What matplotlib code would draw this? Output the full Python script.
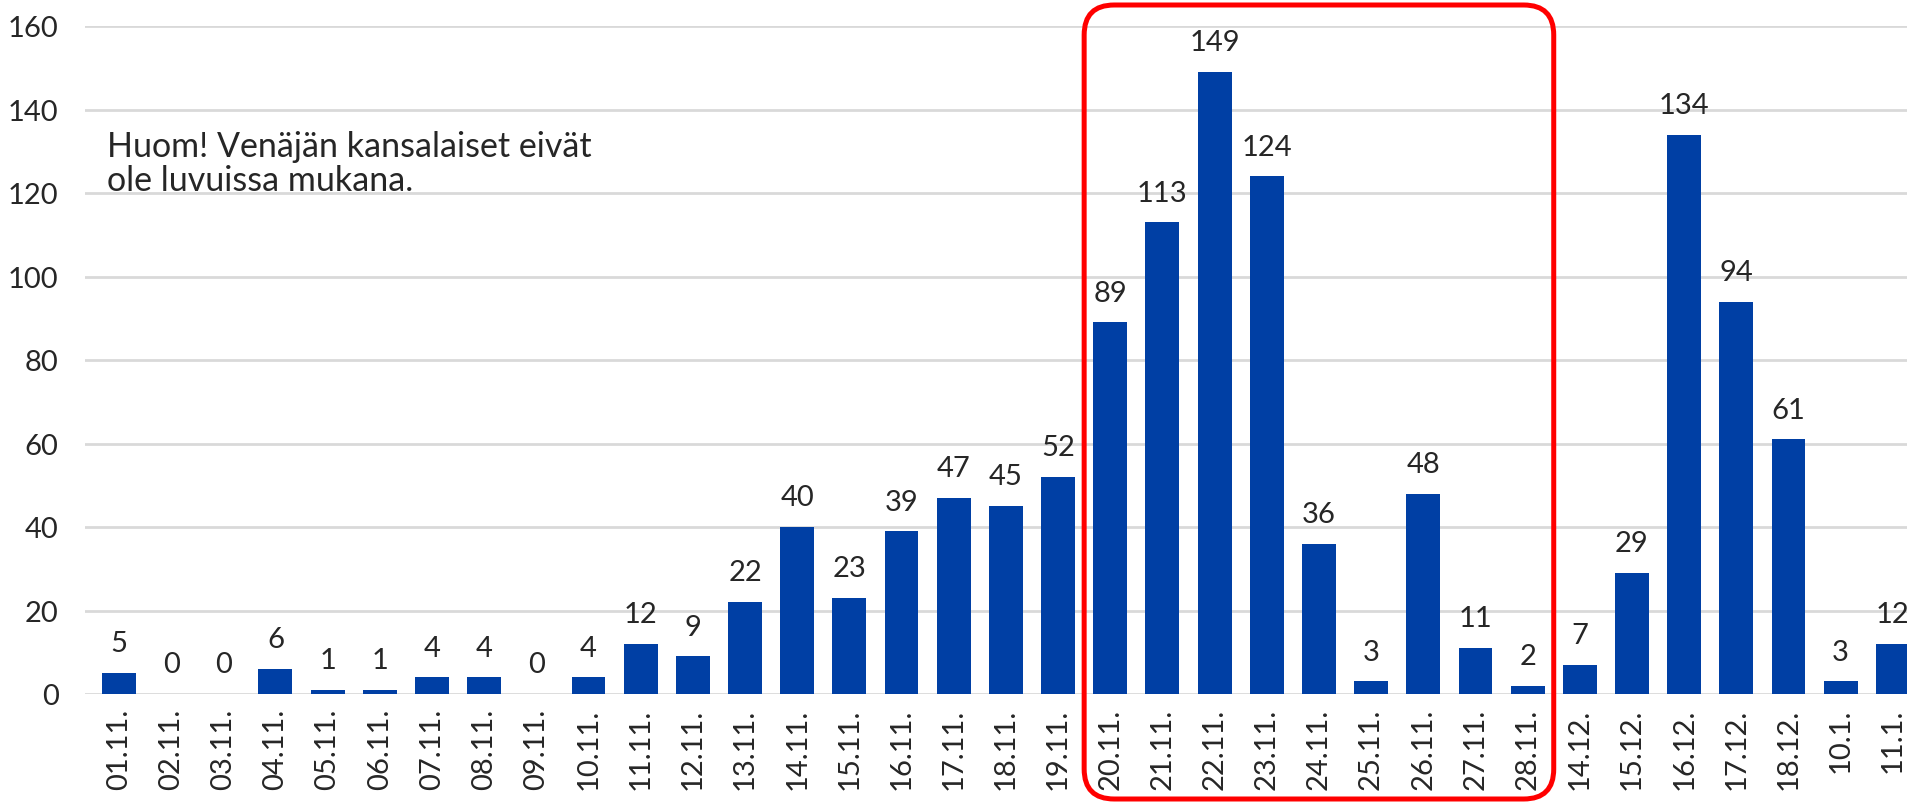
import matplotlib
matplotlib.use("Agg")
import matplotlib.pyplot as plt
from matplotlib.patches import FancyBboxPatch
from matplotlib.transforms import IdentityTransform

# days and counts
days = ['01.11.', '02.11.', '03.11.', '04.11.', '05.11.', '06.11.', '07.11.',
        '08.11.', '09.11.', '10.11.', '11.11.', '12.11.', '13.11.', '14.11.',
        '15.11.', '16.11.', '17.11.', '18.11.', '19.11.', '20.11.', '21.11.',
        '22.11.', '23.11.', '24.11.', '25.11.', '26.11.', '27.11.', '28.11.',
        '14.12.', '15.12.', '16.12.', '17.12.', '18.12.', '10.1.', '11.1.']
counts = [5, 0, 0, 6, 1, 1, 4, 4, 0, 4, 12, 9, 22, 40, 23, 39, 47, 45, 52,
          89, 113, 149, 124, 36, 3, 48, 11, 2, 7, 29, 134, 94, 61, 3, 12]
y_ticks = [0, 20, 40, 60, 80, 100, 120, 140, 160]
note = 'Huom! Venäjän kansalaiset eivät\nole luvuissa mukana.'
box_from, box_to = '20.11.', '28.11.'

plt.rcParams['font.family'] = ['Lato', 'DejaVu Sans']
txt = '#262626'
bar_col = '#003FA4'

W, H = 1908, 803
fig = plt.figure(figsize=(W / 100, H / 100), dpi=100)
ax = fig.add_axes([85 / W, (H - 695) / H, (W - 85) / W, (695 - 27) / H])

x = list(range(len(days)))
ax.bar(x, counts, width=0.65, color=bar_col, zorder=3)

for xi, v in zip(x, counts):
    ax.annotate(str(v), (xi, v), xytext=(0, 12), textcoords='offset points',
                ha='center', va='bottom', fontsize=21, color=txt)

ax.set_xlim(-0.65, 34.29)
ax.set_ylim(0, 160)
ax.set_yticks(y_ticks)
ax.set_xticks(x)
ax.set_xticklabels(days, rotation=90)
ax.tick_params(axis='both', length=0, labelsize=21, labelcolor=txt)
ax.tick_params(axis='y', pad=19)
ax.tick_params(axis='x', pad=10)
ax.grid(axis='y', color='#D9D9D9', linewidth=2, zorder=0)
for s in ax.spines.values():
    s.set_visible(False)

ax.text(0.012, 0.845, note, transform=ax.transAxes, fontsize=24.5, color=txt,
        va='top', ha='left', linespacing=1.08)

# red rounded frame around the peak week
x0 = ax.transData.transform((days.index(box_from) - 0.5, 0))[0]
x1 = ax.transData.transform((days.index(box_to) + 0.5, 0))[0]
frame = FancyBboxPatch((x0, 3), x1 - x0, 794,
                       boxstyle='round,pad=0,rounding_size=30',
                       fill=False, edgecolor='#FF0000', linewidth=3.6,
                       transform=IdentityTransform(), zorder=5)
fig.add_artist(frame)

fig.savefig('out.png', dpi=100)
